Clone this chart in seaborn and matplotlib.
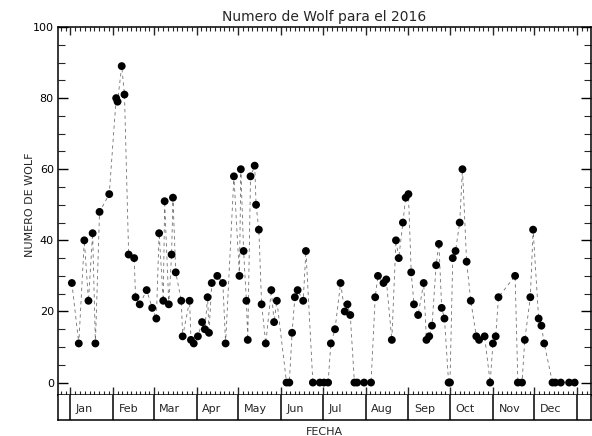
import numpy as np
import pandas as pd
import matplotlib
matplotlib.use("Agg")
import matplotlib.pyplot as plt
import matplotlib.dates as mdates
from matplotlib.ticker import MultipleLocator, FixedLocator
import seaborn as sns

# ---------------- data ----------------
fechas = [
    "2016-01-02", "2016-01-07", "2016-01-11", "2016-01-14", "2016-01-17", "2016-01-19",
    "2016-01-22", "2016-01-29", "2016-02-03", "2016-02-04", "2016-02-07", "2016-02-09",
    "2016-02-12", "2016-02-16", "2016-02-17", "2016-02-20", "2016-02-25", "2016-02-29",
    "2016-03-03", "2016-03-05", "2016-03-08", "2016-03-09", "2016-03-12", "2016-03-14",
    "2016-03-15", "2016-03-17", "2016-03-21", "2016-03-22", "2016-03-27", "2016-03-28",
    "2016-03-30", "2016-04-02", "2016-04-05", "2016-04-07", "2016-04-09", "2016-04-10",
    "2016-04-12", "2016-04-16", "2016-04-20", "2016-04-22", "2016-04-28", "2016-05-02",
    "2016-05-03", "2016-05-05", "2016-05-07", "2016-05-08", "2016-05-10", "2016-05-13",
    "2016-05-14", "2016-05-16", "2016-05-18", "2016-05-21", "2016-05-25", "2016-05-27",
    "2016-05-29", "2016-06-05", "2016-06-07", "2016-06-09", "2016-06-11", "2016-06-13",
    "2016-06-17", "2016-06-19", "2016-06-24", "2016-06-29", "2016-07-02", "2016-07-05",
    "2016-07-07", "2016-07-10", "2016-07-14", "2016-07-17", "2016-07-19", "2016-07-21",
    "2016-07-24", "2016-07-26", "2016-07-31", "2016-08-05", "2016-08-08", "2016-08-10",
    "2016-08-14", "2016-08-16", "2016-08-20", "2016-08-23", "2016-08-25", "2016-08-28",
    "2016-08-30", "2016-09-01", "2016-09-03", "2016-09-05", "2016-09-08", "2016-09-12",
    "2016-09-14", "2016-09-16", "2016-09-18", "2016-09-21", "2016-09-23", "2016-09-25",
    "2016-09-27", "2016-09-30", "2016-10-01", "2016-10-03", "2016-10-05", "2016-10-08",
    "2016-10-10", "2016-10-13", "2016-10-16", "2016-10-20", "2016-10-22", "2016-10-26",
    "2016-10-30", "2016-11-01", "2016-11-03", "2016-11-05", "2016-11-17", "2016-11-19",
    "2016-11-22", "2016-11-24", "2016-11-28", "2016-11-30", "2016-12-04", "2016-12-06",
    "2016-12-08", "2016-12-14", "2016-12-16", "2016-12-20", "2016-12-26", "2016-12-30",
]
wolf = [
    28, 11, 40, 23, 42, 11,
    48, 53, 80, 79, 89, 81,
    36, 35, 24, 22, 26, 21,
    18, 42, 23, 51, 22, 36,
    52, 31, 23, 13, 23, 12,
    11, 13, 17, 15, 24, 14,
    28, 30, 28, 11, 58, 30,
    60, 37, 23, 12, 58, 61,
    50, 43, 22, 11, 26, 17,
    23, 0, 0, 14, 24, 26,
    23, 37, 0, 0, 0, 0,
    11, 15, 28, 20, 22, 19,
    0, 0, 0, 0, 24, 30,
    28, 29, 12, 40, 35, 45,
    52, 53, 31, 22, 19, 28,
    12, 13, 16, 33, 39, 21,
    18, 0, 0, 35, 37, 45,
    60, 34, 23, 13, 12, 13,
    0, 11, 13, 24, 30, 0,
    0, 12, 24, 43, 18, 16,
    11, 0, 0, 0, 0, 0,
]
meses = ["Jan", "Feb", "Mar", "Apr", "May", "Jun",
         "Jul", "Aug", "Sep", "Oct", "Nov", "Dec"]
y_ticks = [0, 20, 40, 60, 80, 100]
titulo = "Numero de Wolf para el 2016"
etiqueta_y = "NUMERO DE WOLF"
etiqueta_x = "FECHA"

df = pd.DataFrame({"fecha": pd.to_datetime(fechas), "wolf": wolf})

# ---------------- style ----------------
sns.set_theme(style="ticks")
plt.rcParams["font.family"] = ["DejaVu Sans"]
plt.rcParams["axes.linewidth"] = 1.1

W_PX, H_PX = 592, 436
fig = plt.figure(figsize=(W_PX / 100, H_PX / 100), dpi=100)

left, right = 58, 591
top, bottom = 27, 395
band_bottom = 420
ax = fig.add_axes([left / W_PX, 1 - bottom / H_PX,
                   (right - left) / W_PX, (bottom - top) / H_PX])

sns.lineplot(data=df, x="fecha", y="wolf", ax=ax, color="#707070",
             lw=0.6, linestyle=(0, (4, 4)), zorder=2)
sns.scatterplot(data=df, x="fecha", y="wolf", ax=ax, color="black",
                s=32, edgecolor="none", zorder=3)

t0 = pd.Timestamp("2016-01-01")
xmin = t0 - pd.Timedelta(days=9)
xmax = t0 + pd.Timedelta(days=375.8)
ax.set_xlim(xmin, xmax)
ax.set_ylim(-3.5, 100)

# month boundaries (major) and minor subdivisions
month_starts = pd.date_range("2015-12-01", "2017-02-01", freq="MS")
major = [m for m in month_starts
         if pd.Timestamp("2016-01-01") <= m <= pd.Timestamp("2017-01-01")]
minor = []
for a, b in zip(month_starts[:-1], month_starts[1:]):
    step = (b - a) / 9
    for k in range(1, 9):
        minor.append(mdates.date2num(a + k * step))
ax.xaxis.set_major_locator(FixedLocator(mdates.date2num(major)))
ax.xaxis.set_minor_locator(FixedLocator(minor))
ax.set_yticks(y_ticks)
ax.yaxis.set_minor_locator(MultipleLocator(5))

ax.tick_params(axis="x", which="major", direction="in", top=True, bottom=True,
               length=6, width=1.0, labelbottom=False)
ax.tick_params(axis="x", which="minor", direction="in", top=True, bottom=True,
               length=3, width=0.8)
ax.tick_params(axis="y", which="major", direction="in", left=True, right=True,
               length=7, width=1.0, labelsize=8, pad=3, colors="black")
ax.tick_params(axis="y", which="minor", direction="in", left=True, right=True,
               length=5, width=0.8)
ax.set_xlabel("")
ax.set_ylabel("")
for s in ax.spines.values():
    s.set_visible(True)
    s.set_color("black")
ax.set_title(titulo, fontsize=10, pad=4)

# month band below
ax2 = fig.add_axes([left / W_PX, 1 - band_bottom / H_PX,
                    (right - left) / W_PX, (band_bottom - bottom) / H_PX])
ax2.set_xlim(mdates.date2num(xmin), mdates.date2num(xmax))
ax2.set_ylim(0, 1)
for m in major:
    ax2.axvline(mdates.date2num(m), color="black", lw=1.1)
for m, lab in zip(major[:-1], meses):
    ax2.text(mdates.date2num(m + pd.Timedelta(days=4)), 0.45, lab,
             ha="left", va="center", fontsize=8)
ax2.set_xticks([])
ax2.set_yticks([])
for s in ax2.spines.values():
    s.set_visible(True)
    s.set_color("black")
ax2.spines["top"].set_visible(False)

fig.text(30 / W_PX, 1 - 205 / H_PX, etiqueta_y, rotation=90,
         ha="center", va="center", fontsize=8)
fig.text(324.5 / W_PX, 1 - 432 / H_PX, etiqueta_x,
         ha="center", va="center", fontsize=8)

fig.savefig("out.png", dpi=100, facecolor="white")
